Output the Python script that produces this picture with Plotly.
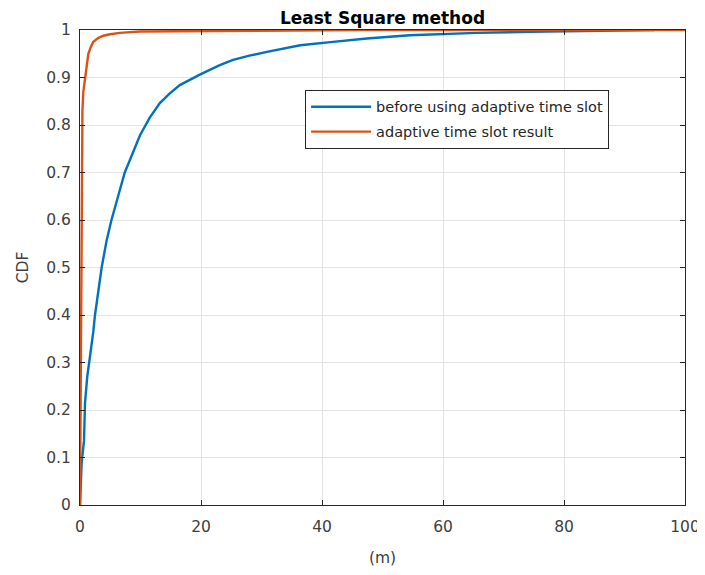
import plotly.graph_objects as go

blue_x = [0, 0.28, 0.66, 0.83, 1.2, 1.65, 2.2, 2.48, 3.0, 3.58, 4.4, 5.2, 6.3, 7.4, 8.3, 9.1, 9.9,
          11.5, 13.2, 14.8, 16.5, 19.8, 23.1, 25.3, 28.0, 30.9, 33.5, 36.4, 41.8, 47.4, 54.5,
          60.0, 65.6, 74.4, 84.3, 90.0, 95.0]
blue_y = [0, 0.09, 0.135, 0.215, 0.27, 0.31, 0.365, 0.40, 0.45, 0.50, 0.557, 0.60, 0.65, 0.70, 0.728, 0.752, 0.778,
          0.815, 0.846, 0.866, 0.884, 0.906, 0.926, 0.937, 0.946, 0.954, 0.961, 0.968, 0.975, 0.982, 0.989,
          0.992, 0.994, 0.996, 0.9975, 0.999, 1.0]

orange_x = [0, 0.05, 0.15, 0.28, 0.4, 0.55, 0.75, 1.0, 1.38, 1.8, 2.2, 3.0, 3.85, 5.0, 6.6, 9.9, 20.0, 46.6, 100.0]
orange_y = [0, 0.1, 0.5, 0.775, 0.83, 0.87, 0.89, 0.91, 0.95, 0.965, 0.975, 0.983, 0.988, 0.991, 0.994, 0.997, 0.998, 1.0, 1.0]

x_ticks = [0, 20, 40, 60, 80, 100]
y_ticks = [0, 0.1, 0.2, 0.3, 0.4, 0.5, 0.6, 0.7, 0.8, 0.9, 1]
y_tick_labels = ["0", "0.1", "0.2", "0.3", "0.4", "0.5", "0.6", "0.7", "0.8", "0.9", "1"]

font = "DejaVu Sans"
axc = "#262626"
txtc = "#404040"

fig = go.Figure()
fig.add_trace(go.Scatter(x=blue_x, y=blue_y, mode="lines", name="before using adaptive time slot",
                         legendgroup="a", line=dict(color="#0072BD", width=2.4)))
fig.add_trace(go.Scatter(x=orange_x, y=orange_y, mode="lines", name="adaptive time slot result",
                         legendgroup="b", line=dict(color="#D95319", width=2.4)))

axis_common = dict(showline=True, linecolor=axc, linewidth=1, mirror="allticks", ticks="inside",
                   ticklen=5, tickcolor=axc, showgrid=True, gridcolor="#e3e3e3", gridwidth=1,
                   zeroline=False, tickfont=dict(family=font, size=15.5, color=txtc))

fig.update_xaxes(range=[0, 100], tickvals=x_ticks, ticklabelstandoff=7,
                 title=dict(text="(m)", font=dict(family=font, size=15.5, color=txtc), standoff=17),
                 **axis_common)
fig.update_yaxes(range=[0, 1], tickvals=y_ticks, ticktext=y_tick_labels, ticklabelstandoff=5,
                 title=dict(text="CDF", font=dict(family=font, size=15.5, color=txtc), standoff=13),
                 **axis_common)

# page body has an 8px margin; compensate so the plot area lands at x 80-685, y 30-505
fig.update_layout(
    width=697, height=567,
    margin=dict(l=72, r=20, t=22, b=70, autoexpand=False),
    paper_bgcolor="white", plot_bgcolor="white",
    title=dict(text="<b>Least Square method</b>", x=(72 + 605 / 2) / 697, xanchor="center",
               y=1 - 10.5 / 567, yanchor="middle",
               font=dict(family=font, size=17, color="#000000")),
    legend=dict(x=0.372, y=0.874, xanchor="left", yanchor="top", bordercolor=axc, borderwidth=1,
                bgcolor="white", itemwidth=60, font=dict(family=font, size=14.5, color=axc),
                traceorder="grouped", tracegroupgap=3),
    showlegend=True,
)

fig.write_html("out.html")
